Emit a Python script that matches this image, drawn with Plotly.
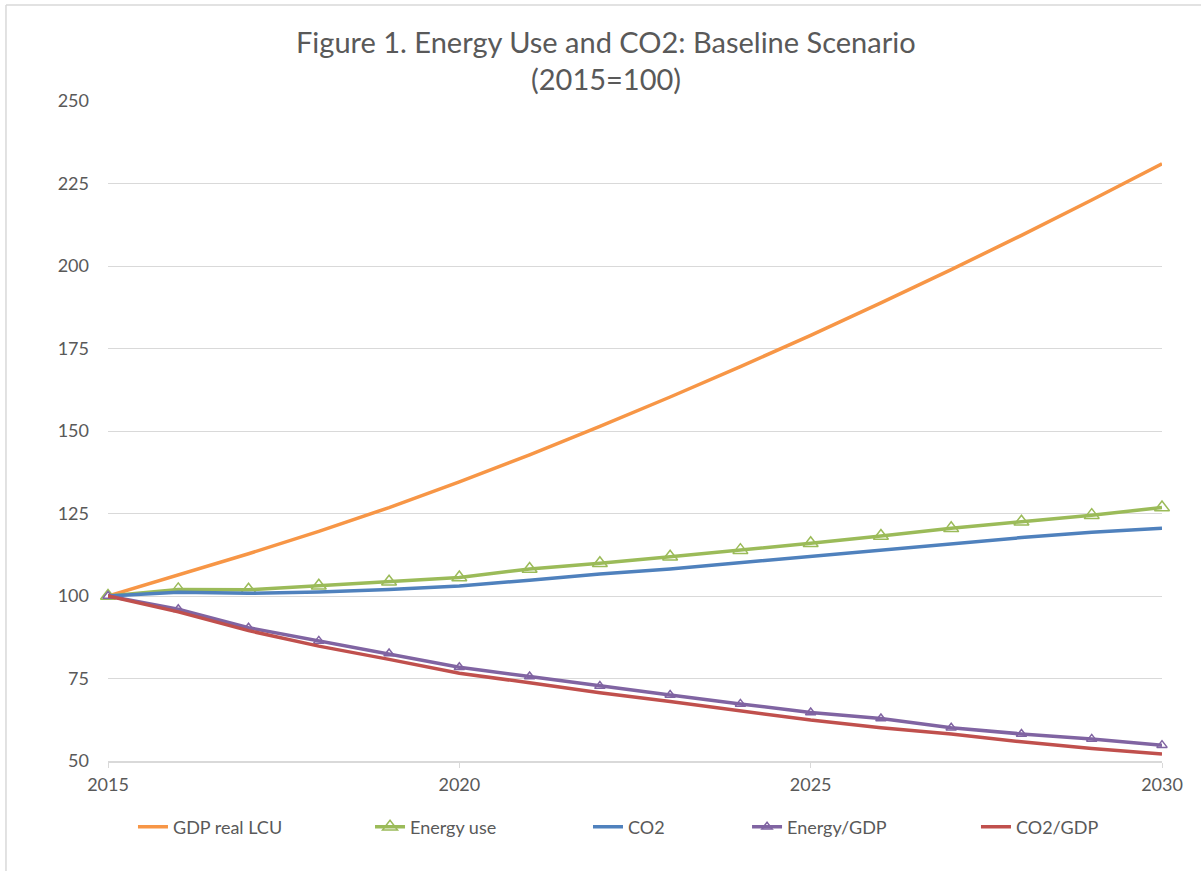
import plotly.graph_objects as go

years = list(range(2015, 2031))
gdp_real_lcu = [100, 106.3, 112.8, 119.6, 126.8, 134.6, 142.8, 151.4, 160.3, 169.5, 179.0, 188.8, 198.9, 209.3, 220.0, 231.0]
energy_use = [100, 102.0, 101.9, 103.1, 104.3, 105.6, 108.2, 109.9, 111.9, 113.9, 116.0, 118.2, 120.5, 122.5, 124.5, 126.8]
co2 = [100, 101.1, 100.8, 101.2, 102.0, 103.0, 104.8, 106.7, 108.2, 110.1, 112.1, 113.9, 115.8, 117.7, 119.3, 120.5]
energy_gdp = [100, 96.0, 90.4, 86.4, 82.6, 78.4, 75.6, 72.7, 70.0, 67.3, 64.7, 62.9, 60.1, 58.2, 56.7, 54.8]
co2_gdp = [100, 95.2, 89.5, 84.8, 80.8, 76.6, 73.7, 70.7, 68.0, 65.2, 62.4, 60.1, 58.2, 55.8, 53.8, 52.1]

y_ticks = [50, 75, 100, 125, 150, 175, 200, 225, 250]
x_ticks = [2015, 2020, 2025, 2030]

title_line1 = "Figure 1. Energy Use and CO2: Baseline Scenario"
title_line2 = "(2015=100)"

FONT = "Lato"
TXT = "#595959"
GRID = "#D9D9D9"

series = [
    ("GDP real LCU", gdp_real_lcu, "#F79646", None, "legend", 0.0237),
    ("Energy use", energy_use, "#9BBB59", 13, "legend2", 0.2486),
    ("CO2", co2, "#4F81BD", None, "legend3", 0.4554),
    ("Energy/GDP", energy_gdp, "#8064A2", 9, "legend4", 0.6063),
    ("CO2/GDP", co2_gdp, "#C0504D", None, "legend5", 0.8235),
]

fig = go.Figure()
legend_layout = {}
for name, vals, color, msize, leg, lx in series:
    kw = dict(x=years, y=vals, name=name, legend=leg,
              line=dict(color=color, width=3.5), cliponaxis=False)
    if msize:
        kw["mode"] = "lines+markers"
        kw["marker"] = dict(symbol="triangle-up-open", size=msize, color=color,
                            line=dict(color=color, width=1.5))
    else:
        kw["mode"] = "lines"
    fig.add_trace(go.Scatter(**kw))
    legend_layout[leg] = dict(x=lx, xanchor="left", y=-0.1, yanchor="middle",
                              orientation="h", bgcolor="rgba(0,0,0,0)",
                              font=dict(family=FONT, size=18, color=TXT),
                              itemwidth=30)

fig.update_layout(
    width=1201, height=871,
    margin=dict(l=108, r=39, t=101, b=110),
    paper_bgcolor="white", plot_bgcolor="white",
    font=dict(family=FONT, color=TXT),
    showlegend=True,
    **legend_layout,
)

fig.add_annotation(text=title_line1, xref="paper", yref="paper", x=0.4725, y=1.0894,
                   xanchor="center", yanchor="middle", showarrow=False,
                   font=dict(family=FONT, size=29, color=TXT))
fig.add_annotation(text=title_line2, xref="paper", yref="paper", x=0.4725, y=1.0348,
                   xanchor="center", yanchor="middle", showarrow=False,
                   font=dict(family=FONT, size=29, color=TXT))

fig.update_xaxes(range=[2015, 2030], tickvals=x_ticks, ticktext=[str(v) for v in x_ticks],
                 showgrid=False, zeroline=False, showline=True, linecolor=GRID, linewidth=1.5,
                 ticks="outside", ticklen=5, tickcolor=GRID, ticklabelstandoff=2,
                 tickfont=dict(family=FONT, size=18, color=TXT))
fig.update_yaxes(range=[50, 250], tickvals=y_ticks, ticktext=[str(v) for v in y_ticks],
                 showgrid=True, gridcolor=GRID, gridwidth=1, zeroline=False, showline=False,
                 ticks="", ticklabelstandoff=18,
                 tickfont=dict(family=FONT, size=18, color=TXT))

# chart-area border (top and left edges visible in the reference)
fig.add_shape(type="line", xref="paper", yref="paper", x0=-0.0968, x1=1.04, y0=1.1455, y1=1.1455,
              line=dict(color=GRID, width=1.5))
fig.add_shape(type="line", xref="paper", yref="paper", x0=-0.0968, x1=-0.0968, y0=1.1455, y1=-0.17,
              line=dict(color=GRID, width=1.5))

fig.write_html("out.html", config={"displayModeBar": False},
               post_script="document.body.style.margin='0px';")
